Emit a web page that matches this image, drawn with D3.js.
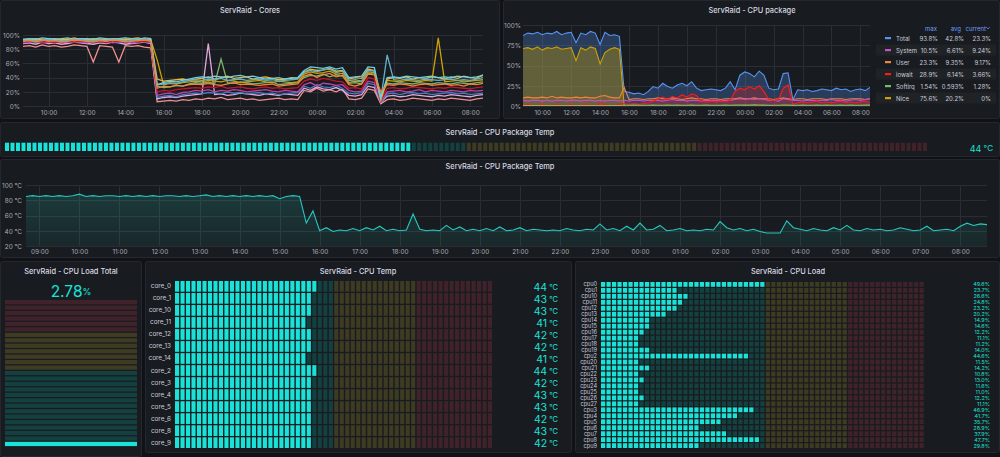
<!DOCTYPE html>
<html><head><meta charset="utf-8">
<script src="https://cdn.jsdelivr.net/npm/d3@7"></script>
<style>
html,body{margin:0;padding:0;background:#111217;}
svg{display:block;font-family:Inter, Roboto, "DejaVu Sans", sans-serif;}
</style></head><body>
<svg id="c" width="1000" height="457"></svg>
<script>
// ---------------- DATA ----------------
// Cores panel: 20-minute samples from 08:40 to 08:40 next day (73 values)
const coreLightBlue = [94,95,94,96,95,94,95,96,94,95,95,94,96,95,94,95,96,95,94,96,95,
30,33,35,34,36,38,
40,41,40,42,41,40,42,43,41,42,40,38,39,40,38,39,40,
50,55,54,53,55,52,54,
40,41,42,
55,54,
12,
40,41,40,42,41,40,41,42,40,41,40,42,41,40,41,43];
const coreYellow = [93,94,95,93,94,95,93,94,96,94,93,95,94,93,95,94,93,95,96,94,93,
38,35,36,37,38,36,
38,39,41,38,40,42,39,40,41,38,40,41,39,37,38,40,39,
48,52,50,51,53,49,50,
38,40,39,
52,50,
10,
38,40,39,41,38,40,39,41,40,38,41,39,42,40,39,44];
const coreDarkYellow = [92,93,92,94,93,92,93,94,92,93,94,92,93,94,92,93,94,93,92,94,93,
65,30,32,31,33,34,
35,34,36,35,34,36,35,33,34,35,36,34,33,35,34,33,34,
45,48,46,47,49,45,46,
33,35,34,
48,47,
8,
36,35,34,36,35,34,36,35,96,34,35,36,34,35,36,37];
const coreOrange = [91,92,90,93,91,92,90,91,93,92,91,90,92,91,93,92,90,91,92,93,91,
25,28,27,29,28,30,
31,30,32,30,29,31,33,30,31,30,29,30,31,28,29,30,31,
42,45,40,44,46,41,43,
30,28,31,
45,44,
20,
30,29,31,30,28,30,31,29,30,31,29,30,28,31,30,32];
const coreGreen = [93,92,94,93,92,94,93,92,93,94,92,93,94,92,93,92,94,93,92,93,92,
28,26,27,29,28,31,
33,32,34,31,66,33,32,34,33,31,32,33,34,30,31,32,33,
40,43,42,45,41,44,42,
32,33,31,
46,45,
14,
32,31,33,32,31,33,32,31,33,32,31,33,32,31,33,34];
const coreRed = [90,91,92,90,91,89,92,91,90,91,92,90,91,89,92,91,93,92,90,91,90,
20,22,21,23,24,25,
26,25,27,26,28,25,26,27,25,24,26,27,25,26,24,25,26,
35,38,36,39,37,35,34,
25,26,24,
40,38,
8,
25,26,24,25,27,26,25,24,26,25,27,26,25,24,26,27];
const corePurple = [89,90,91,89,90,92,89,90,91,90,89,91,90,92,89,90,91,89,90,91,89,
15,17,18,16,19,20,
22,21,23,20,22,21,23,22,20,21,22,23,21,20,22,21,20,
30,33,28,32,31,29,30,
22,20,21,
35,33,
6,
20,21,22,20,21,23,20,22,21,20,22,21,20,22,21,22];
const coreBlue = [91,92,90,91,93,90,92,91,90,92,91,93,90,91,92,90,91,92,93,90,91,
12,14,15,13,16,17,
18,17,19,18,17,20,18,19,17,18,19,17,18,16,17,18,19,
28,25,30,27,26,29,25,
18,17,19,
32,30,
5,
17,18,16,18,19,17,18,16,17,18,19,17,18,16,17,18];
const coreLightPink = [88,89,87,90,88,89,87,88,90,89,88,87,89,88,90,89,87,88,89,90,88,
10,12,13,12,14,15,
16,17,88,16,17,15,16,18,17,16,15,17,16,15,17,16,15,
25,22,27,24,23,26,22,
15,14,16,
28,26,
5,
14,15,13,14,16,15,14,13,15,14,16,15,14,13,15,16];
const coreSalmon = [84,85,83,86,84,85,83,84,86,85,84,62,85,84,83,62,85,84,85,83,82,
6,7,8,7,9,8,
10,9,11,10,12,9,10,11,9,10,8,9,10,11,9,10,9,
22,20,25,21,23,20,24,
10,9,11,
24,22,
3,
9,10,8,9,11,10,9,8,10,9,11,10,9,8,10,11];
const coreTeal = [92,93,91,92,94,93,91,92,93,94,92,91,93,92,94,93,91,92,93,94,92,
30,31,33,32,34,36,
37,36,38,37,39,36,37,38,36,37,38,36,37,35,36,37,38,
47,50,48,51,52,47,49,
36,37,35,
50,49,
10,
72,37,36,38,37,36,38,37,36,37,38,36,37,36,38,40];

// CPU package panel: 20-minute samples (73 values)
const pkgTotal = [87,90,89,91,88,90,89,92,88,90,91,78,90,88,92,90,76,91,87,88,86,
18,17,15,16,14,18,
24,22,28,24,22,26,28,25,30,22,19,20,21,20,19,22,30,
20,38,42,40,36,43,38,
22,20,21,
40,41,
8,
20,19,20,18,19,21,20,19,22,20,21,18,20,21,19,23];
const pkgNice = [71,72,70,73,69,72,71,73,70,71,72,56,72,69,73,71,52,66,70,72,70,
0,0,0,0,0,0,
0,0,0,0,0,0,0,0,0,0,0,0,0,0,0,0,0,
0,0,0,0,0,0,0,
0,0,0,
0,0,
0,
0,0,0,0,0,0,0,0,0,0,0,0,0,0,0,0];
const pkgUser = [10,11,10,10,11,10,12,10,11,10,10,11,10,11,10,10,12,13,11,10,10,
23,8,9,9,8,9,
9,10,9,9,10,9,8,9,10,9,9,8,9,9,8,9,9,
9,10,9,9,10,9,9,
9,8,9,
10,9,
8,
9,9,8,9,9,9,8,9,9,9,8,9,9,9,8,9];
const pkgSystem = [7,6,7,7,6,7,6,7,7,6,7,7,6,7,7,6,7,6,7,7,6,
7,6,7,7,6,7,
7,7,6,7,8,7,7,6,7,7,6,7,7,7,6,7,7,
8,9,8,9,8,9,8,
7,7,6,
9,8,
7,
7,6,7,7,6,7,7,8,7,7,6,7,8,7,8,9];
const pkgIowait = [1,2,1,1,2,1,1,2,1,1,2,1,1,2,1,1,3,2,1,1,2,
3,2,3,2,3,4,
6,9,11,8,12,10,14,11,15,13,6,5,6,5,6,5,7,
18,22,20,24,21,25,18,
8,7,8,
22,26,
2,
4,5,4,5,6,4,5,4,5,6,4,5,4,5,6,4];
const pkgSoftirq = [0.6,0.5,0.6,0.7,0.5,0.6,0.6,0.5,0.7,0.6,0.5,0.6,0.6,0.7,0.5,0.6,0.6,0.5,0.7,0.6,0.6,
1.0,0.9,1.1,1.0,0.9,1.0,
1.1,1.0,0.9,1.2,1.0,1.1,0.9,1.0,1.2,1.0,0.9,1.1,1.0,0.9,1.0,1.1,1.0,
1.2,1.3,1.1,1.2,1.4,1.2,1.1,
1.0,0.9,1.0,
1.3,1.2,
0.8,
1.0,1.1,0.9,1.0,1.2,1.0,1.1,0.9,1.0,1.2,1.0,1.1,0.9,1.0,1.2,1.3];

const legendNames = ["Total","System","User","iowait","Softirq","Nice"];
const legendMax = ["93.8%","10.5%","23.3%","28.9%","1.54%","75.6%"];
const legendAvg = ["42.8%","6.61%","9.35%","6.14%","0.593%","20.2%"];
const legendCur = ["23.3%","9.24%","9.17%","3.66%","1.28%","0%"];

// Package temperature: 10-minute samples (145 values)
const pkgTemp = [85,86,85,86,85,86,85,86,88,85,
86,85,86,86,85,86,85,86,85,86,
85,86,86,85,86,85,86,87,85,86,
85,86,85,86,85,86,85,86,82,85,
86,85,50,66,40,44,39,41,40,43,
40,44,41,46,40,42,40,41,62,42,
40,41,40,47,41,45,40,42,40,43,
40,45,40,41,44,40,42,41,40,41,
40,43,41,40,42,41,49,41,43,40,
46,41,50,41,42,47,40,41,43,40,
41,40,42,41,52,44,41,43,40,42,
39,37,37,37,53,44,42,40,43,41,
40,44,41,47,41,40,43,41,42,40,
41,44,42,40,41,46,40,41,42,40,
46,50,47,49,48];
const pkgTempCurrent = 44;

const cpuLoadTotal = 2.78;

const coreNames = ["core_0","core_1","core_10","core_11","core_12","core_13","core_14","core_2","core_3","core_4","core_5","core_6","core_8","core_9"];
const coreTemps = [44,43,43,41,42,42,41,44,42,43,43,42,43,42];

const cpuNames = ["cpu0","cpu1","cpu10","cpu11","cpu12","cpu13","cpu14","cpu15","cpu16","cpu17","cpu18","cpu19","cpu2","cpu20","cpu21","cpu22","cpu23","cpu24","cpu25","cpu26","cpu27","cpu3","cpu4","cpu5","cpu6","cpu7","cpu8","cpu9"];
const cpuLoads = [49.6,23.7,26.6,24.8,23.2,20.2,14.9,14.6,12.2,11.1,11.2,14.0,44.6,11.5,14.2,10.8,13.0,11.6,11.0,12.2,11.1,46.9,41.7,35.7,28.9,37.9,47.7,29.8];

// ---------------- DRAWING ----------------
const svg = d3.select("#c");
svg.append("rect").attr("width",1000).attr("height",457).attr("fill","#111217");
const defs = svg.append("defs");
const TXT = "#ccccdc", AX = "#a9abb6", GRID = "#2a2d33";
const CYAN = "#19e3d9";

function panel(x,y,w,h,title,tx,ty){
  svg.append("rect").attr("x",x+0.5).attr("y",y+0.5).attr("width",w-1).attr("height",h-1)
    .attr("rx",2).attr("fill","#181b1f").attr("stroke","#24272d");
  svg.append("text").attr("x",tx).attr("y",ty).attr("text-anchor","middle")
    .attr("dominant-baseline","central").attr("fill","#d8d9e3").attr("font-size",7.4)
    .attr("font-weight",500).text(title);
}

const MIN = 60000;
const tStart = new Date(2021,5,1,8,40);
const tEnd = new Date(+tStart + 1440*MIN);
let clipId = 0;

function tsPanel(o){
  const x = d3.scaleTime().domain([tStart,tEnd]).range([o.x0,o.x1]);
  const y = d3.scaleLinear().domain(o.yDomain).range([o.yb,o.yt]);
  const g = svg.append("g");
  const xt = x.ticks(d3.timeHour.every(o.hours));
  const grid = g.append("g").attr("stroke",GRID).attr("stroke-width",1);
  grid.selectAll(null).data(xt).join("line")
    .attr("x1",d=>Math.round(x(d))+0.5).attr("x2",d=>Math.round(x(d))+0.5)
    .attr("y1",o.yt).attr("y2",o.yb);
  grid.selectAll(null).data(o.yTicks).join("line")
    .attr("x1",o.x0).attr("x2",o.x1)
    .attr("y1",d=>Math.round(y(d))+0.5).attr("y2",d=>Math.round(y(d))+0.5);
  const ax = g.append("g").attr("transform",`translate(0,${o.xLabelY})`)
    .call(d3.axisBottom(x).tickValues(xt).tickFormat(d3.timeFormat("%H:%M")).tickSize(0).tickPadding(0));
  ax.attr("font-family",null).attr("font-size",null);
  ax.select(".domain").remove();
  ax.selectAll("text").attr("y",0).attr("dy","0.35em").attr("fill",AX).attr("font-size",6.4);
  const ay = g.append("g").attr("transform",`translate(${o.labelRight},0)`)
    .call(d3.axisLeft(y).tickValues(o.yTicks).tickFormat(o.yFmt).tickSize(0).tickPadding(0));
  ay.attr("font-family",null).attr("font-size",null);
  ay.select(".domain").remove();
  ay.selectAll("text").attr("x",0).attr("dy","0.35em").attr("fill",AX).attr("font-size",6.4);
  const id = "clip"+(clipId++);
  defs.append("clipPath").attr("id",id).append("rect")
    .attr("x",o.x0).attr("y",o.yt-6).attr("width",o.x1-o.x0).attr("height",o.yb-o.yt+6);
  const plot = g.append("g").attr("clip-path",`url(#${id})`);
  const tx = (i)=>x(new Date(+tStart + i*o.step*MIN));
  return {x,y,plot,tx};
}

// ---- Panel 1: Cores ----
panel(0,0,500,119,"ServRaid - Cores",250,10);
const p1 = tsPanel({x0:23,x1:483,yt:35,yb:106,yDomain:[0,100],yTicks:[0,20,40,60,80,100],
  yFmt:d=>d+"%",hours:2,xLabelY:113,labelRight:20,step:20});
const coreSeries = [
  {v:coreSalmon,c:"#F29191"},{v:coreLightPink,c:"#E5A8E2"},{v:coreBlue,c:"#447EBC"},
  {v:corePurple,c:"#BA43A9"},{v:coreRed,c:"#C4162A"},{v:coreGreen,c:"#7EB26D"},
  {v:coreDarkYellow,c:"#CCA300"},{v:coreYellow,c:"#EAB839"},{v:coreTeal,c:"#64B0C8"},
  {v:coreLightBlue,c:"#6ED0E0"},{v:coreOrange,c:"#EF843C"}
];
const line1 = d3.line().x((d,i)=>p1.tx(i)).y(d=>p1.y(d));
p1.plot.selectAll(null).data(coreSeries).join("path")
  .attr("d",s=>line1(s.v)).attr("fill","none").attr("stroke",s=>s.c).attr("stroke-width",1.3);

// ---- Panel 2: CPU package ----
panel(503,0,497,119,"ServRaid - CPU package",752,10);
const p2 = tsPanel({x0:523,x1:870,yt:25,yb:106,yDomain:[0,100],yTicks:[0,25,50,75,100],
  yFmt:d=>d+"%",hours:2,xLabelY:113,labelRight:521,step:20});
const pkgSeries = [
  {v:pkgTotal,c:"#5794F2",f:0.28},{v:pkgNice,c:"#CCA300",f:0.35},
  {v:pkgUser,c:"#EF843C",f:0.08},{v:pkgSystem,c:"#C44FC8",f:0.06},
  {v:pkgIowait,c:"#FF1A1A",f:0.25},{v:pkgSoftirq,c:"#73BF69",f:0.1}
];
const area2 = d3.area().x((d,i)=>p2.tx(i)).y0(p2.y(0)).y1(d=>p2.y(d));
const line2 = d3.line().x((d,i)=>p2.tx(i)).y(d=>p2.y(d));
p2.plot.selectAll(null).data(pkgSeries).join("path")
  .attr("d",s=>area2(s.v)).attr("fill",s=>s.c).attr("fill-opacity",s=>s.f).attr("stroke","none");
p2.plot.selectAll(null).data(pkgSeries).join("path")
  .attr("d",s=>line2(s.v)).attr("fill","none").attr("stroke",s=>s.c).attr("stroke-width",1.1);

// legend
const legColors = ["#5794F2","#C44FC8","#EF843C","#FF1A1A","#73BF69","#CCA300"];
const lg = svg.append("g").attr("font-size",6);
const rowY = d3.scaleLinear().domain([0,1]).range([38,50]);
lg.selectAll(null).data([1,3,5]).join("rect")
  .attr("x",876).attr("y",d=>rowY(d)-5.5).attr("width",120).attr("height",11)
  .attr("fill","#ffffff").attr("fill-opacity",0.035);
lg.append("text").attr("x",937).attr("y",28).attr("text-anchor","end").attr("dominant-baseline","central").attr("fill","#6e9fff").text("max");
lg.append("text").attr("x",961).attr("y",28).attr("text-anchor","end").attr("dominant-baseline","central").attr("fill","#6e9fff").text("avg");
lg.append("text").attr("x",965.5).attr("y",28).attr("text-anchor","start").attr("dominant-baseline","central").attr("fill","#6e9fff").text("current");
lg.append("path").attr("d","M986.3,27.2 l1.7,1.7 l1.7,-1.7").attr("fill","none").attr("stroke","#6e9fff").attr("stroke-width",0.8);
legendNames.forEach((n,i)=>{
  const yy = rowY(i);
  lg.append("rect").attr("x",885).attr("y",yy-1).attr("width",6).attr("height",2.2).attr("fill",legColors[i]);
  lg.append("text").attr("x",896).attr("y",yy).attr("dominant-baseline","central").attr("fill",TXT).text(n);
  lg.append("text").attr("x",938).attr("y",yy).attr("text-anchor","end").attr("dominant-baseline","central").attr("fill",TXT).text(legendMax[i]);
  lg.append("text").attr("x",964).attr("y",yy).attr("text-anchor","end").attr("dominant-baseline","central").attr("fill",TXT).text(legendAvg[i]);
  lg.append("text").attr("x",991).attr("y",yy).attr("text-anchor","end").attr("dominant-baseline","central").attr("fill",TXT).text(legendCur[i]);
});

// ---- LCD helpers ----
const TH = [{v:0,lit:CYAN,dim:"#14403f"},{v:50,lit:"#EAB839",dim:"#3e3b22"},{v:75,lit:"#F2495C",dim:"#40232a"}];
function thColor(v){ let c = TH[0]; TH.forEach(t=>{ if(v>=t.v) c=t; }); return c; }
function lcdH(g,x0,x1,y,h,n,value,gap){
  const s = d3.scaleLinear().domain([0,n]).range([x0,x1]);
  const lit = Math.ceil(value/100*n);
  g.selectAll(null).data(d3.range(n)).join("rect")
    .attr("x",k=>s(k)).attr("y",y).attr("width",s(1)-s(0)-gap).attr("height",h)
    .attr("fill",k=>{const c=thColor(k/n*100); return k<lit?c.lit:c.dim;});
}

// ---- Panel 3: package temp bar gauge ----
panel(0,122,1000,35,"ServRaid - CPU Package Temp",500,132);
const g3 = svg.append("g");
lcdH(g3,5,928.5,142.7,8.3,168,pkgTempCurrent,1.5);
const v3 = svg.append("text").attr("x",993).attr("y",147.5).attr("text-anchor","end")
  .attr("dominant-baseline","central").attr("fill",CYAN).attr("font-size",9);
v3.append("tspan").text(pkgTempCurrent);
v3.append("tspan").attr("font-size",8).text(" °C");

// ---- Panel 4: package temp time series ----
panel(0,159,1000,99,"ServRaid - CPU Package Temp",500,166);
const p4 = tsPanel({x0:26,x1:987,yt:185,yb:246,yDomain:[20,100],yTicks:[20,40,60,80,100],
  yFmt:d=>d+" °C",hours:1,xLabelY:252,labelRight:22,step:10});
const grad = defs.append("linearGradient").attr("id","tg").attr("x1",0).attr("x2",0).attr("y1",0).attr("y2",1);
grad.append("stop").attr("offset","0%").attr("stop-color","#2bd1c5").attr("stop-opacity",0.17);
grad.append("stop").attr("offset","100%").attr("stop-color","#2bd1c5").attr("stop-opacity",0.07);
const area4 = d3.area().x((d,i)=>p4.tx(i)).y0(p4.y(20)).y1(d=>p4.y(d));
const line4 = d3.line().x((d,i)=>p4.tx(i)).y(d=>p4.y(d));
p4.plot.append("path").attr("d",area4(pkgTemp)).attr("fill","url(#tg)");
p4.plot.append("path").attr("d",line4(pkgTemp)).attr("fill","none").attr("stroke","#26c9bf").attr("stroke-width",1.1);

// ---- Panel 5: CPU load total ----
panel(0,261,142,196,"ServRaid - CPU Load Total",71,271);
const v5 = svg.append("text").attr("x",71).attr("y",291).attr("text-anchor","middle")
  .attr("dominant-baseline","central").attr("fill",CYAN);
v5.append("tspan").attr("font-size",15.5).text(cpuLoadTotal.toFixed(2));
v5.append("tspan").attr("font-size",9).text("%");
{
  const n = 27;
  const s = d3.scaleLinear().domain([0,n]).range([447.3,300]);
  const lit = Math.ceil(cpuLoadTotal/100*n);
  svg.append("g").selectAll(null).data(d3.range(n)).join("rect")
    .attr("x",5).attr("width",132).attr("y",k=>s(k+1)).attr("height",s(0)-s(1)-1.2)
    .attr("fill",k=>{const c=thColor(k/n*100); return k<lit?c.lit:c.dim;});
}

// ---- Panel 6: CPU temp ----
panel(145,261,427,192,"ServRaid - CPU Temp",358,271);
{
  const band = d3.scaleBand().domain(coreNames).range([281,448]).paddingInner(0.11);
  const g6 = svg.append("g");
  coreNames.forEach((n,i)=>{
    const yy = band(n), h = band.bandwidth(), cy = yy + h/2;
    g6.append("text").attr("x",171).attr("y",cy).attr("text-anchor","end")
      .attr("dominant-baseline","central").attr("fill",TXT).attr("font-size",6.4).text(n);
    lcdH(g6.append("g"),175,493.5,yy,h,58,coreTemps[i],1.4);
    const t = g6.append("text").attr("x",558).attr("y",cy+0.5).attr("text-anchor","end")
      .attr("dominant-baseline","central").attr("fill",CYAN);
    t.append("tspan").attr("font-size",10.5).text(coreTemps[i]);
    t.append("tspan").attr("font-size",7.5).text(" °C");
  });
}

// ---- Panel 7: CPU load ----
panel(575,261,425,192,"ServRaid - CPU Load",788,271);
{
  const band = d3.scaleBand().domain(cpuNames).range([282,448]).paddingInner(0.2);
  const g7 = svg.append("g");
  cpuNames.forEach((n,i)=>{
    const yy = band(n), h = band.bandwidth(), cy = yy + h/2;
    g7.append("text").attr("x",597).attr("y",cy).attr("text-anchor","end")
      .attr("dominant-baseline","central").attr("fill",TXT).attr("font-size",5.6).text(n);
    lcdH(g7.append("g"),601,925,yy,h,59,cpuLoads[i],1.3);
    g7.append("text").attr("x",990).attr("y",cy).attr("text-anchor","end")
      .attr("dominant-baseline","central").attr("fill",CYAN).attr("font-size",5.4)
      .text(cpuLoads[i].toFixed(1)+"%");
  });
}
</script></body></html>
